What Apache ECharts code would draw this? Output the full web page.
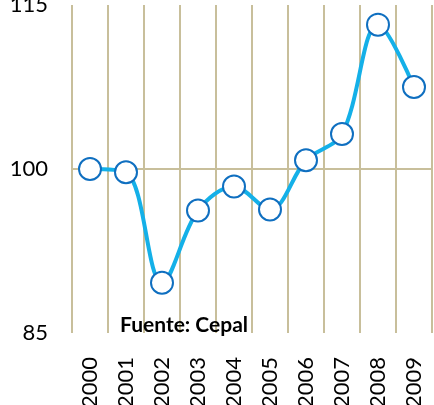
<!DOCTYPE html>
<html>
<head>
<meta charset="utf-8">
<script src="https://cdn.jsdelivr.net/npm/echarts@6/dist/echarts.min.js"></script>
<style>
  html, body { margin: 0; padding: 0; background: #fff; }
  #chart { width: 434px; height: 405px; }
</style>
</head>
<body>
<div id="chart"></div>
<script>
'use strict'

const years = ['2000', '2001', '2002', '2003', '2004', '2005', '2006', '2007', '2008', '2009']
const values = [100.0, 99.7, 89.6, 96.2, 98.4, 96.3, 100.8, 103.2, 113.2, 107.5]
const yMin = 85
const yMax = 115
const yStep = 15
const sourceNote = 'Fuente: Cepal'

const GRID_COLOR = '#c8bf9b'
const FONT = 'Lato, "Open Sans", sans-serif'

const chart = echarts.init(document.getElementById('chart'))

chart.setOption({
  animation: false,
  backgroundColor: '#fff',
  grid: { left: 72, right: 2, top: 5, bottom: 72, containLabel: false, outerBoundsMode: 'none' },
  title: {
    text: sourceNote,
    left: 115,
    top: 310,
    textStyle: { fontFamily: FONT, fontSize: 21, fontWeight: 'bold', color: '#000' }
  },
  xAxis: {
    type: 'category',
    data: years,
    boundaryGap: true,
    axisLine: { show: false },
    axisTick: { show: false },
    splitLine: { show: true, lineStyle: { color: GRID_COLOR, width: 2 } },
    axisLabel: {
      rotate: 90,
      margin: 24,
      fontFamily: FONT,
      fontSize: 22,
      color: '#000'
    }
  },
  yAxis: {
    type: 'value',
    min: yMin,
    max: yMax,
    interval: yStep,
    axisLine: { show: false },
    axisTick: { show: false },
    // only the middle (100) line is drawn
    splitLine: { show: true, lineStyle: { color: ['transparent', GRID_COLOR, 'transparent'], width: 2 } },
    axisLabel: {
      margin: 24,
      fontFamily: FONT,
      fontSize: 22,
      color: '#000'
    }
  },
  series: [{
    type: 'line',
    data: values,
    smooth: 0.35,
    symbol: 'circle',
    symbolSize: 22,
    lineStyle: { color: '#14b0e8', width: 4 },
    itemStyle: { color: '#fff', borderColor: '#0f6fc0', borderWidth: 2 }
  }]
})
</script>
</body>
</html>
